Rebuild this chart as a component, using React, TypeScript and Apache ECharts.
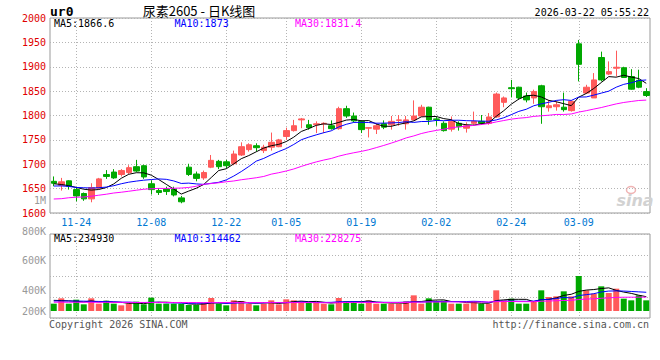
import React, { useEffect, useRef } from 'react';
import * as echarts from 'echarts';

// ---------- data ----------
const dates = [
  '11-19','11-20','11-21','11-24','11-25','11-26','11-27','11-28','12-01','12-02',
  '12-03','12-04','12-05','12-08','12-09','12-10','12-11','12-12','12-15','12-16',
  '12-17','12-18','12-19','12-22','12-23','12-24','12-25','12-26','12-29','12-30',
  '12-31','01-05','01-06','01-07','01-08','01-09','01-12','01-13','01-14','01-15',
  '01-16','01-19','01-20','01-21','01-22','01-23','01-26','01-27','01-28','01-29',
  '01-30','02-02','02-03','02-04','02-05','02-06','02-09','02-10','02-11','02-12',
  '02-13','02-24','02-25','02-26','02-27','03-02','03-03','03-04','03-05','03-06',
  '03-09','03-10','03-11','03-12','03-13','03-16','03-17','03-18','03-19','03-20',
];
const axisLabelDates = ['11-24', '12-08', '12-22', '01-05', '01-19', '02-02', '02-24', '03-09'];

const opens = [
  1665,1657,1666,1648,1640,1629,1651,1679,1684,1679, 1683,1695,1697,1660,1646,1649,1649,1631,1694,1680,
  1672,1694,1706,1705,1701,1719,1730,1738,1728,1735, 1736,1757,1769,1791,1781,1781,1783,1779,1773,1814,
  1799,1788,1774,1772,1783,1781,1790,1783,1791,1799, 1817,1793,1784,1772,1784,1774,1784,1788,1784,1797,
  1827,1857,1858,1840,1836,1861,1816,1818,1817,1810, 1947,1846,1836,1919,1885,1897,1898,1880,1872,1849,
];
const closes = [
  1661,1664,1655,1635,1629,1652,1670,1675,1672,1687, 1693,1686,1674,1648,1642,1644,1637,1623,1679,1671,
  1683,1708,1695,1697,1721,1736,1740,1734,1735,1745, 1750,1769,1779,1793,1775,1783,1784,1773,1814,1799,
  1789,1771,1775,1779,1776,1788,1791,1791,1799,1817, 1791,1792,1769,1788,1777,1779,1788,1784,1797,1844,
  1836,1855,1836,1832,1849,1818,1820,1822,1812,1829, 1905,1858,1873,1873,1890,1899,1878,1854,1858,1841,
];
const lows = [
  1655,1646,1648,1624,1625,1622,1649,1670,1670,1675, 1680,1684,1670,1638,1637,1637,1634,1620,1676,1665,
  1668,1692,1690,1692,1698,1717,1726,1726,1723,1728, 1735,1750,1767,1774,1771,1764,1764,1771,1771,1795,
  1786,1764,1755,1762,1772,1771,1779,1771,1790,1798, 1781,1779,1767,1767,1769,1765,1781,1781,1781,1795,
  1817,1837,1832,1827,1824,1783,1808,1810,1808,1808, 1870,1844,1836,1870,1883,1880,1877,1853,1856,1838,
];
const highs = [
  1675,1672,1667,1653,1642,1661,1672,1688,1690,1690, 1698,1709,1699,1667,1651,1654,1654,1635,1701,1685,
  1687,1719,1709,1709,1728,1745,1743,1743,1740,1765, 1752,1775,1791,1795,1791,1788,1786,1790,1818,1820,
  1806,1790,1776,1784,1790,1799,1801,1799,1831,1822, 1818,1798,1788,1798,1788,1786,1808,1801,1805,1847,
  1839,1873,1859,1847,1853,1863,1832,1829,1847,1831, 1955,1863,1887,1931,1911,1933,1900,1895,1894,1856,
];
const volumes = [
  121000,209000,121000,187000,110000,209000,121000,170500,121000,93500,
  121000,154000,110000,220000,121000,121000,121000,121000,99000,99000,
  132000,214500,121000,93500,176000,165000,121000,93500,121000,176000,
  110000,192500,176000,159500,132000,132000,121000,110000,214500,159500,
  159500,121000,176000,121000,121000,121000,121000,159500,258500,121000,
  209000,159500,170500,121000,121000,121000,159500,121000,121000,341000,
  176000,203500,121000,121000,148500,341000,231000,242000,324500,242000,
  577500,341000,286000,407000,297000,368500,203500,176000,258500,176000,
];

// moving-average values at the start of the window (their earlier inputs are off-chart)
const ma5Lead = [1660, 1658.5, 1656, 1652.5];
const ma10Lead = [1655.3, 1655.6, 1654.5, 1652.4, 1651.8, 1651.2, 1651.8, 1653.2, 1656];
const ma30Lead = [
  1628.7, 1629.3, 1631.3, 1632.4, 1632.8, 1634.4, 1636.5, 1638.5, 1641, 1642.6,
  1644.6, 1646.7, 1648.7, 1649.8, 1650.4, 1650.4, 1650.8, 1651.2, 1652.4, 1654.9,
  1659, 1660.4, 1662, 1664.1, 1665.7, 1668.2, 1670.2, 1672.3, 1675,
];
const volMa5Lead = [176000, 172000, 168000, 160000];
const volMa10Lead = [165000, 165000, 164000, 163000, 162000, 160000, 158000, 155000, 152000];
const volMa30Lead = [
  145000, 145000, 144000, 144000, 144000, 143000, 143000, 143000, 142000, 142000,
  142000, 141000, 141000, 141000, 141000, 140000, 140000, 140000, 140000, 140000,
  139000, 139000, 139000, 139000, 139000, 139000, 139000, 139000, 139000,
];

const priceMaTexts = ['MA5:1866.6', 'MA10:1873', 'MA30:1831.4'];
const volMaTexts = ['MA5:234930', 'MA10:314462', 'MA30:228275'];
const volTickLabels = ['800K', '600K', '400K', '200K'];
const priceExtraLabel = '1M';

// ---------- layout / style ----------
const MONO = '"DejaVu Sans Mono", "Liberation Mono", monospace';
const LEFT = 50;
const WIDTH = 600;
const MAIN_TOP = 18;
const MAIN_H = 195;
const VOL_TOP = 234;
const VOL_FRAME_H = 84;
const VOL_BAR_H = 77;
const VOL_PER_PX = 16500;
const VOL_LABEL_Y = [231, 260, 290.5, 311];
const MA_TEXT_X = [54, 174.5, 295];
const MA_COLORS = ['#000000', '#0000ff', '#ff00ff'];
const UP = '#ff5a5a';
const DOWN = '#00a800';
const GRID_LINE = { color: '#b4b4b4', width: 1, type: [1, 2] as number[] };
const BORDER = '#999999';

function movingAverage(values: number[], n: number, lead: number[]): number[] {
  return values.map((_, i) => {
    if (i < n - 1) return lead[i];
    let s = 0;
    for (let k = i - n + 1; k <= i; k++) s += values[k];
    return +(s / n).toFixed(2);
  });
}

function txt(text: string, x: number, y: number, fill: string, font: string, align = 'left') {
  return {
    type: 'text',
    silent: true,
    z: 10,
    style: {
      text, x, y, fill, font,
      align, textAlign: align,
      verticalAlign: 'middle', textVerticalAlign: 'middle',
    },
  };
}

function buildOption() {
  const labelIdx = new Set(axisLabelDates.map((d) => dates.indexOf(d)));
  const showAt = (i: number) => labelIdx.has(i);

  const ma5 = movingAverage(closes, 5, ma5Lead);
  const ma10 = movingAverage(closes, 10, ma10Lead);
  const ma30 = movingAverage(closes, 30, ma30Lead);
  const vma5 = movingAverage(volumes, 5, volMa5Lead);
  const vma10 = movingAverage(volumes, 10, volMa10Lead);
  const vma30 = movingAverage(volumes, 30, volMa30Lead);

  const catBase = {
    type: 'category',
    data: dates,
    boundaryGap: true,
    axisTick: { show: false },
    axisLine: { show: false },
  };
  const vSplit = { show: true, interval: showAt, alignWithLabel: true, lineStyle: GRID_LINE };

  const line = (data: number[], color: string, xi: number, yi: number) => ({
    type: 'line',
    data,
    xAxisIndex: xi,
    yAxisIndex: yi,
    symbol: 'none',
    smooth: false,
    lineStyle: { color, width: 1 },
    z: 4,
    silent: true,
  });

  const graphics: any[] = [
    txt('ur0', LEFT, 11, '#000', `bold 13px ${MONO}`),
    txt('尿素2605 - 日K线图', 199, 10, '#000', '13px "Noto Sans CJK SC", sans-serif', 'center'),
    txt('2026-03-22 05:55:22', 649, 12, '#000', `10px ${MONO}`, 'right'),
    txt(priceExtraLabel, 46, 200, '#999', `10px ${MONO}`, 'right'),
    txt('Copyright 2026 SINA.COM', 49, 324, '#555', `10px ${MONO}`),
    txt('http://finance.sina.com.cn', 649, 324, '#555', `10px ${MONO}`, 'right'),
    {
      type: 'ellipse', silent: true, z: 0,
      shape: { cx: 631, cy: 190, rx: 4.5, ry: 3.5 },
      style: { fill: 'none', stroke: '#f0b4b4', lineWidth: 1.5 },
    },
  ];
  const mark = txt('sina', 635, 200, '#d2d2d2', 'italic bold 16px "DejaVu Sans", sans-serif', 'center');
  mark.z = 0;
  graphics.push(mark);
  priceMaTexts.forEach((t, k) => graphics.push(txt(t, MA_TEXT_X[k], 23.7, MA_COLORS[k], `10px ${MONO}`)));
  volMaTexts.forEach((t, k) => graphics.push(txt(t, MA_TEXT_X[k], 238.7, MA_COLORS[k], `10px ${MONO}`)));
  volTickLabels.forEach((t, k) => graphics.push(txt(t, 46, VOL_LABEL_Y[k], '#999', `10px ${MONO}`, 'right')));

  return {
    animation: false,
    backgroundColor: '#ffffff',
    grid: [
      { left: LEFT, top: MAIN_TOP, width: WIDTH, height: MAIN_H, show: true, borderColor: BORDER, borderWidth: 1, backgroundColor: 'transparent', outerBoundsMode: 'none' },
      { left: LEFT, top: VOL_TOP, width: WIDTH, height: VOL_FRAME_H, show: true, borderColor: BORDER, borderWidth: 1, backgroundColor: 'transparent', outerBoundsMode: 'none' },
      { left: LEFT, top: VOL_TOP, width: WIDTH, height: VOL_BAR_H, show: false, outerBoundsMode: 'none' },
    ],
    xAxis: [
      {
        ...catBase,
        gridIndex: 0,
        axisLabel: { show: true, interval: showAt, color: '#0078d2', fontFamily: MONO, fontSize: 10, margin: 4 },
        splitLine: vSplit,
      },
      { ...catBase, gridIndex: 1, axisLabel: { show: false }, splitLine: vSplit },
      { ...catBase, gridIndex: 2, axisLabel: { show: false }, splitLine: { show: false } },
    ],
    yAxis: [
      {
        type: 'value', gridIndex: 0, min: 1600, max: 2000, interval: 50,
        axisLine: { show: false }, axisTick: { show: false },
        axisLabel: {
          color: '#e00000', fontFamily: MONO, fontSize: 10, margin: 4, padding: [0, 0, 3, 0],
          formatter: (v: number) => String(v),
        },
        splitLine: { show: true, lineStyle: GRID_LINE },
      },
      {
        type: 'value', gridIndex: 1, min: 0, max: 4, interval: 1,
        axisLine: { show: false }, axisTick: { show: false }, axisLabel: { show: false },
        splitLine: { show: true, lineStyle: GRID_LINE },
      },
      {
        type: 'value', gridIndex: 2, min: 0, max: VOL_BAR_H * VOL_PER_PX,
        axisLine: { show: false }, axisTick: { show: false }, axisLabel: { show: false },
        splitLine: { show: false },
      },
    ],
    series: [
      {
        type: 'candlestick',
        xAxisIndex: 0,
        yAxisIndex: 0,
        barWidth: 6,
        silent: true,
        z: 3,
        data: dates.map((_, i) => [opens[i], closes[i], lows[i], highs[i]]),
        itemStyle: { color: UP, color0: DOWN, borderColor: UP, borderColor0: DOWN, borderWidth: 1 },
      },
      line(ma5, MA_COLORS[0], 0, 0),
      line(ma10, MA_COLORS[1], 0, 0),
      line(ma30, MA_COLORS[2], 0, 0),
      {
        type: 'bar',
        xAxisIndex: 2,
        yAxisIndex: 2,
        barWidth: 6,
        silent: true,
        z: 3,
        data: volumes.map((v, i) => ({
          value: v,
          itemStyle: { color: closes[i] >= opens[i] ? UP : DOWN },
        })),
      },
      line(vma5, MA_COLORS[0], 2, 2),
      line(vma10, MA_COLORS[1], 2, 2),
      line(vma30, MA_COLORS[2], 2, 2),
    ],
    graphic: graphics,
  };
}

export default function App() {
  const ref = useRef<HTMLDivElement>(null);
  useEffect(() => {
    if (!ref.current) return;
    const chart = echarts.init(ref.current, null, { renderer: 'svg' });
    chart.setOption(buildOption() as any);
    return () => chart.dispose();
  }, []);
  return (
    <div
      ref={ref}
      style={{ position: 'fixed', left: 0, top: 0, width: 660, height: 360, background: '#fff' }}
    />
  );
}
